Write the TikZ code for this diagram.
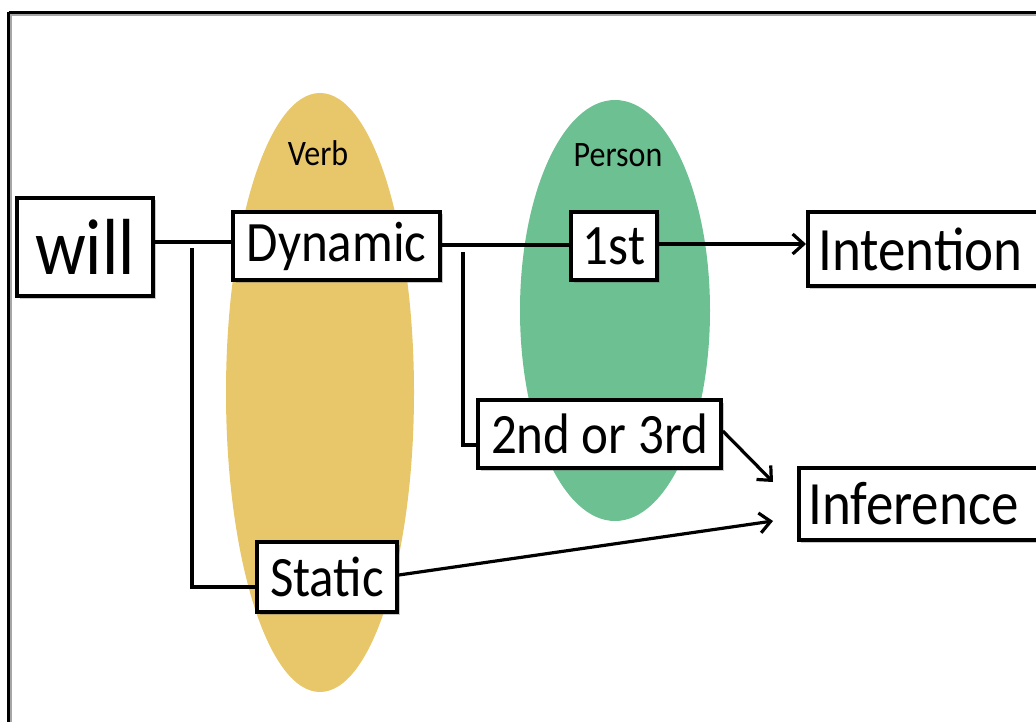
\documentclass[tikz,border=0pt]{standalone}
\usepackage{fontspec}
\setmainfont{Carlito}
\usetikzlibrary{shapes.geometric,arrows.meta,shadows,calc}
\definecolor{verbyellow}{RGB}{232,198,106}
\definecolor{persongreen}{RGB}{108,192,146}
\newcommand{\tallt}[1]{\scalebox{1}[1.12]{#1}}
\tikzset{
  box/.style={draw=black, line width=3.6pt, fill=white, inner sep=0pt,
    drop shadow={shadow xshift=2.5pt, shadow yshift=-2.5pt, opacity=0.35, fill=black!60}},
  blob/.style={ellipse, inner sep=0pt, draw=none},
  conn/.style={line width=3.2pt, line cap=butt},
  arr/.style={conn, -{Straight Barb[length=11pt,width=20pt,line width=3.2pt]}},
  bigtxt/.style={font=\fontsize{51}{60}\selectfont},
  smalltxt/.style={font=\fontsize{32}{38}\selectfont},
}
\begin{document}
\begin{tikzpicture}[x=1pt,y=-1pt]
\useasboundingbox (0,0) rectangle (1036,722);
% frame
\draw[line width=2.6pt, black!35] (10.5,14.5) -- (1100,14.5);
\draw[line width=2.6pt, black!35] (10.5,14.5) -- (10.5,800);
\draw[line width=2.8pt] (8.5,12.5) -- (1100,12.5);
\draw[line width=2.8pt] (8.5,12.5) -- (8.5,800);
% ellipses
\node[blob, fill=verbyellow, minimum width=188, minimum height=599] (verbell) at (320,392.5) {};
\node[blob, fill=persongreen, minimum width=190, minimum height=421] (personell) at (615,310.5) {};
\node[smalltxt, inner sep=0pt] (verblbl) at (318,153) {\tallt{Verb}};
\node[smalltxt, inner sep=0pt] (personlbl) at (618,155) {\tallt{Person}};
% boxes
\node[box, minimum width=136, minimum height=98, font=\fontsize{71}{80}\selectfont] (will) at (85,247) {\tallt{will}};
\node[box, bigtxt, minimum width=207, minimum height=68] (dyn) at (336.5,246) {\tallt{Dynamic}};
\node[box, bigtxt, minimum width=86, minimum height=68] (first) at (614,246) {\tallt{1st}};
\node[box, bigtxt, minimum width=243, minimum height=68] (second) at (599.5,434) {\tallt{2nd or 3rd}};
\node[box, bigtxt, minimum width=140, minimum height=70] (static) at (327,577) {\tallt{Static}};
\node[box, minimum width=280, minimum height=74, anchor=west] (intbox) at (806,249) {};
\node[font=\fontsize{55}{64}\selectfont, inner sep=0pt, anchor=west] (int) at (818,249) {\tallt{Intention}};
\node[box, minimum width=280, minimum height=72, anchor=west] (infbox) at (797,504) {};
\node[font=\fontsize{55}{64}\selectfont, inner sep=0pt, anchor=west] (inf) at (808,504) {\tallt{Inference}};
% junction coordinates
\coordinate (j1) at (192,248);
\coordinate (j2) at ($(static.west)+(0,10)$);
\coordinate (j3) at (463,252);
\coordinate (j4) at ($(second.west)+(0,11)$);
\coordinate (t1) at ($(infbox.west)+(-24,-22)$);
\coordinate (t2) at ($(infbox.west)+(-24,17)$);
% connectors
\draw[conn] (will.east |- 0,242) -- (dyn.west |- 0,242);
\draw[conn] (j1) |- (j2);
\draw[conn] (dyn.east |- 0,245) -- (first.west |- 0,245);
\draw[conn] (j3) |- (j4);
\draw[arr] (first.east |- 0,244) -- (intbox.west |- 0,244);
\draw[arr] ($(second.east)+(0,-3)$) -- (t1);
\draw[arr] ($(static.east)+(0,-2)$) -- (t2);
\end{tikzpicture}
\end{document}
